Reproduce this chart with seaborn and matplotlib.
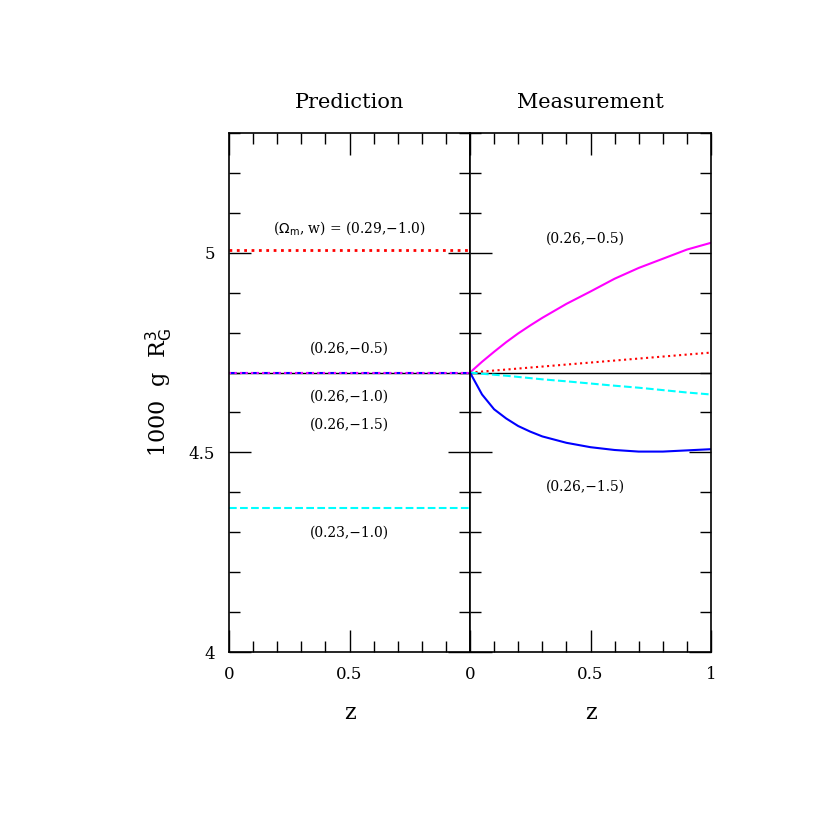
import matplotlib
matplotlib.use("Agg")
import matplotlib.pyplot as plt
import seaborn as sns
import numpy as np
from matplotlib.ticker import MultipleLocator

sns.set_style("ticks")
plt.rcParams['font.family'] = ['DejaVu Serif']
for k in ['text.color', 'axes.labelcolor', 'xtick.color', 'ytick.color', 'axes.edgecolor']:
    plt.rcParams[k] = 'black'

# Prediction panel (constant levels)
pred_z = [0.0, 1.0]
pred_red = [5.007, 5.007]
pred_mid = [4.70, 4.70]
pred_cyan = [4.36, 4.36]

# Measurement panel
meas_z = [0.0, 0.05, 0.1, 0.15, 0.2, 0.25, 0.3, 0.4, 0.5, 0.6, 0.7, 0.8, 0.9, 1.0]
meas_magenta = [4.70, 4.727, 4.752, 4.776, 4.798, 4.818, 4.837, 4.872, 4.903, 4.935, 4.962, 4.985, 5.008, 5.025]
meas_red = [4.70, 4.7025, 4.705, 4.7075, 4.71, 4.7125, 4.715, 4.72, 4.725, 4.73, 4.735, 4.74, 4.745, 4.75]
meas_black = [4.70] * 14
meas_cyan = [4.70, 4.697, 4.6945, 4.692, 4.689, 4.686, 4.683, 4.678, 4.6725, 4.667, 4.662, 4.656, 4.650, 4.645]
meas_blue = [4.70, 4.645, 4.608, 4.585, 4.566, 4.552, 4.540, 4.524, 4.513, 4.506, 4.502, 4.502, 4.505, 4.508]

fig = plt.figure(figsize=(8.3, 8.3), dpi=100)
ax1 = fig.add_axes([229/830, 1-652/830, 241/830, 519/830])
ax2 = fig.add_axes([470/830, 1-652/830, 241/830, 519/830], sharey=ax1)

sns.lineplot(x=pred_z, y=pred_red, ax=ax1, color='red', linestyle=':', lw=2)
sns.lineplot(x=pred_z, y=pred_mid, ax=ax1, color='black', lw=1)
sns.lineplot(x=pred_z, y=pred_mid, ax=ax1, color='blue', linestyle='--', lw=1.5)
sns.lineplot(x=pred_z, y=pred_mid, ax=ax1, color='magenta', linestyle=':', lw=1.5)
sns.lineplot(x=pred_z, y=pred_cyan, ax=ax1, color='cyan', linestyle='--', lw=1.5)

sns.lineplot(x=meas_z, y=meas_magenta, ax=ax2, color='magenta', lw=1.5)
sns.lineplot(x=meas_z, y=meas_red, ax=ax2, color='red', linestyle=':', lw=1.5)
sns.lineplot(x=meas_z, y=meas_black, ax=ax2, color='black', lw=1)
sns.lineplot(x=meas_z, y=meas_cyan, ax=ax2, color='cyan', linestyle='--', lw=1.5)
sns.lineplot(x=meas_z, y=meas_blue, ax=ax2, color='blue', lw=1.5)

for ax in (ax1, ax2):
    ax.set_xlim(0, 1)
    ax.set_ylim(4, 5.3)
    ax.xaxis.set_major_locator(MultipleLocator(0.5))
    ax.xaxis.set_minor_locator(MultipleLocator(0.1))
    ax.yaxis.set_major_locator(MultipleLocator(0.5))
    ax.yaxis.set_minor_locator(MultipleLocator(0.1))
    ax.tick_params(which='both', direction='in', top=True, right=True, labelsize=12)
    ax.tick_params(which='major', length=16, width=1, pad=10)
    ax.tick_params(which='minor', length=8, width=1)
    ax.xaxis.set_major_formatter(plt.FuncFormatter(lambda v, p: f"{v:g}"))
    ax.yaxis.set_major_formatter(plt.FuncFormatter(lambda v, p: f"{v:g}"))
    for s in ax.spines.values():
        s.set_linewidth(1.2)
    ax.set_xlabel('z', fontsize=16, labelpad=14)
ax1.xaxis.set_major_formatter(plt.FuncFormatter(lambda v, p: "" if v > 0.9 else f"{v:g}"))
plt.setp(ax2.get_yticklabels(), visible=False)
ax1.set_ylabel(r'1000  g  R$_\mathrm{G}^3$', fontsize=16, labelpad=10)
ax1.set_title('Prediction', fontsize=15, pad=18)
ax2.set_title('Measurement', fontsize=15, pad=18)

ax1.text(0.5, 5.05, r'($\Omega_\mathrm{m}$, w) = (0.29,$-$1.0)', ha='center', fontsize=10)
ax1.text(0.5, 4.75, '(0.26,−0.5)', ha='center', fontsize=10)
ax1.text(0.5, 4.64, '(0.26,−1.0)', ha='center', fontsize=10, va='center')
ax1.text(0.5, 4.57, '(0.26,−1.5)', ha='center', fontsize=10, va='center')
ax1.text(0.5, 4.30, '(0.23,−1.0)', ha='center', fontsize=10, va='center')
ax2.text(0.48, 5.035, '(0.26,−0.5)', ha='center', fontsize=10, va='center')
ax2.text(0.48, 4.415, '(0.26,−1.5)', ha='center', fontsize=10, va='center')

fig.savefig('out.png', dpi=100)
